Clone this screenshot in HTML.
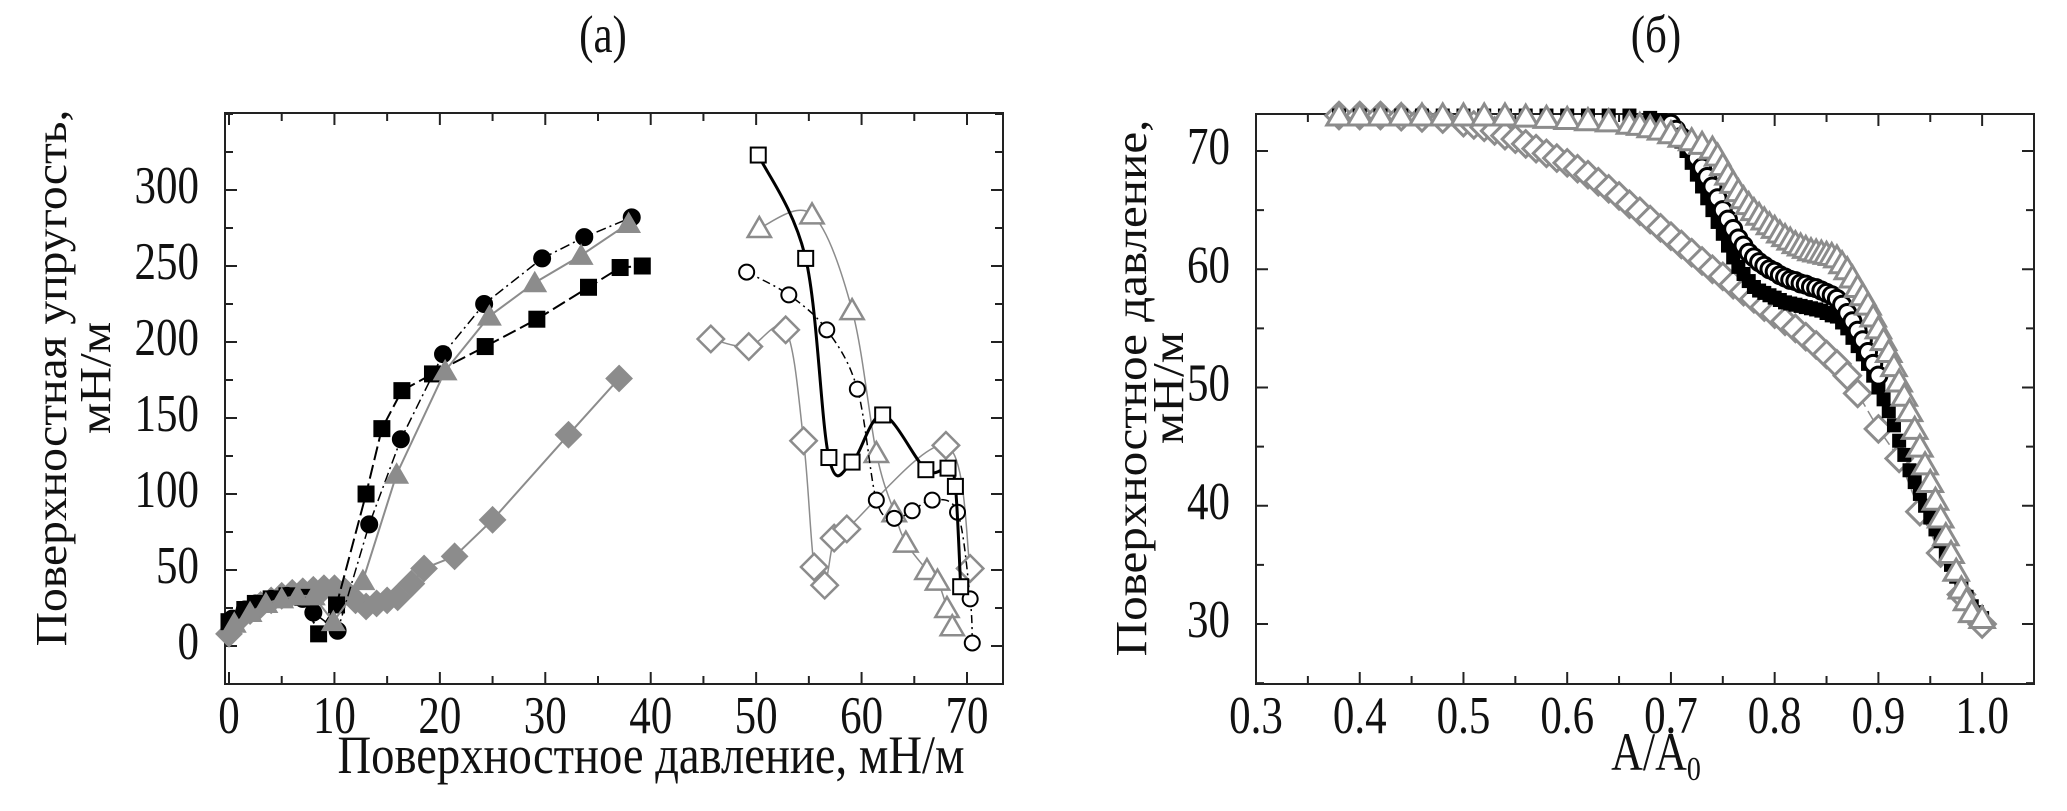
<!DOCTYPE html>
<html><head><meta charset="utf-8"><style>
html,body{margin:0;padding:0;background:#fff}
svg{display:block}
</style></head><body>
<svg id="s" width="2067" height="811" viewBox="0 0 2067 811" xmlns="http://www.w3.org/2000/svg" font-family="Liberation Serif, serif">
<g id="A"></g>
<g id="B"></g>
</svg>
<script>
// Chart (a) data
const aSqX=[0,1.5,2.5,4,5.5,7,8.5,10.2,13,14.5,16.4,19.3,24.3,29.2,34.1,37.1,39.2];
const aSqY=[16,24,28,31,33,32,8,27,100,143,168,179,197,215,236,249,250];
const aCiX=[0.3,1.5,2.5,4,5.5,7,8,10.3,13.3,16.3,20.3,24.2,29.7,33.7,38.2];
const aCiY=[18,24,28,31,33,31,22,10,80,136,192,225,255,269,282];
const aTrX=[0.5,2,3.5,5,6.5,8,9.9,12.7,15.9,20.5,24.7,29,33.4,37.9];
const aTrY=[15,22,28,31,33,33,16,43,113,181,217,239,257,278];
const aDiX=[0,1,2,3,4,5,6,7,8,9,10,11,12,13,14,15,16,17.3,18.5,21.4,25,32.2,37];
const aDiY=[8,18,23,27,30,33,35,36,37,38,38,36,30,26,28,30,32,41,51,59,83,139,176];
const aOSqX=[50.2,54.7,56.9,59.1,62.0,66.1,68.2,68.9,69.4];
const aOSqY=[323,255,124,121,152,116,117,105,39];
const aOCiX=[49.1,53.1,56.7,59.6,61.4,63.1,64.8,66.7,69.1,70.3,70.5];
const aOCiY=[246,231,208,169,96,84,89,96,88,31,2];
const aOTrX=[50.3,55.3,59.1,61.4,63.1,64.2,66.2,67.2,68.1,68.6];
const aOTrY=[275,284,221,127,88,68,50,43,25,13];
const aODiX=[45.7,49.3,52.8,54.5,55.5,56.5,57.4,58.6,68.0,70.3];
const aODiY=[202,197,208,135,52,40,71,77,132,51];
const aXTicks=[0,10,20,30,40,50,60,70];
const aYTicks=[0,50,100,150,200,250,300];
// Chart (b) data
const bSqX=[0.38,0.4,0.42,0.44,0.46,0.48,0.5,0.52,0.54,0.56,0.58,0.6,0.62,0.64,0.66,0.68,0.69,0.7,0.705,0.71,0.715,0.72,0.725,0.73,0.735,0.74,0.745,0.75,0.755,0.76,0.765,0.77,0.775,0.78,0.785,0.79,0.795,0.8,0.805,0.81,0.815,0.82,0.825,0.83,0.835,0.84,0.845,0.85,0.855,0.86,0.865,0.87,0.875,0.88,0.885,0.89,0.895,0.9,0.905,0.91,0.915,0.92,0.925,0.93,0.935,0.94,0.945,0.95,0.955,0.96,0.965,0.97,0.975,0.98,0.985,0.99,0.995,1.0];
const bSqY=[73,73,73,73,73,73,73,73,73,73,73,73,73,73,73,72.8,72.6,72.3,71.5,70.8,70,69,68,67,66,65,64,63,62,61,60.2,59.6,59,58.5,58.2,58,57.8,57.6,57.4,57.2,57.1,57,56.9,56.8,56.7,56.6,56.5,56.3,56.1,56,55.5,55,54.2,53.5,52.8,52,51,50,49,48,46.8,45.5,44.3,43,42,41,40,39,38,37,36,35,34,33,32.3,31.5,31,30.5];
const bCiX=[0.7,0.705,0.71,0.715,0.72,0.725,0.73,0.735,0.74,0.745,0.75,0.755,0.76,0.765,0.77,0.775,0.78,0.785,0.79,0.795,0.8,0.805,0.81,0.815,0.82,0.825,0.83,0.835,0.84,0.845,0.85,0.855,0.86,0.865,0.87,0.875,0.88,0.885,0.89,0.895,0.9];
const bCiY=[72.3,71.8,71.2,70.7,70.2,69.4,68.6,67.8,67,66,65,64.2,63.4,62.6,62,61.4,61,60.6,60.3,60,59.8,59.5,59.3,59.1,59,58.8,58.7,58.5,58.4,58.2,58,57.8,57.5,57,56.3,55.6,54.8,54,53,52,51];
const bTrX=[0.38,0.4,0.42,0.44,0.46,0.48,0.5,0.52,0.54,0.56,0.58,0.6,0.62,0.64,0.66,0.67,0.68,0.69,0.7,0.71,0.72,0.73,0.74,0.745,0.75,0.755,0.76,0.765,0.77,0.775,0.78,0.785,0.79,0.795,0.8,0.805,0.81,0.815,0.82,0.825,0.83,0.835,0.84,0.845,0.85,0.855,0.86,0.865,0.87,0.875,0.88,0.885,0.89,0.895,0.9,0.905,0.91,0.915,0.92,0.925,0.93,0.935,0.94,0.945,0.95,0.955,0.96,0.965,0.97,0.975,0.98,0.985,0.99,1.0];
const bTrY=[73,73,73,73,73,73,73,73,73,72.9,72.8,72.7,72.6,72.5,72.3,72.2,72,71.8,71.5,71.2,70.9,70.6,70.2,69.6,68.8,68,67.3,66.6,66,65.5,65,64.6,64.2,63.8,63.5,63.1,62.8,62.5,62.2,62,61.8,61.6,61.5,61.4,61.3,61.2,61,60.5,60,59.3,58.5,57.8,57,56,55,54,53,51.8,50.5,49.3,48,46.5,45,43.5,42,40.5,39,37.5,36,34.5,33,32,31,30.5];
const bDiX=[0.38,0.4,0.42,0.44,0.46,0.48,0.5,0.51,0.52,0.53,0.54,0.55,0.56,0.57,0.58,0.59,0.6,0.61,0.62,0.63,0.64,0.65,0.66,0.67,0.68,0.69,0.7,0.71,0.72,0.73,0.74,0.75,0.76,0.77,0.78,0.79,0.8,0.81,0.82,0.83,0.84,0.85,0.86,0.87,0.88,0.9,0.92,0.94,0.96,0.98,1.0];
const bDiY=[73,73,73,72.9,72.8,72.7,72.4,72.2,72,71.7,71.3,71,70.6,70.2,69.8,69.4,69,68.5,68,67.4,66.8,66.2,65.5,64.9,64.2,63.5,62.8,62.1,61.4,60.7,60,59.4,58.7,58.1,57.5,56.8,56.2,55.6,55,54.3,53.6,52.8,52,51,49.5,46.5,44,39.5,36,32.5,30];
const bXTicks=[0.3,0.4,0.5,0.6,0.7,0.8,0.9,1.0];
const bYTicks=[30,40,50,60,70];

const NS="http://www.w3.org/2000/svg";
const SY=1.22;
function mk(p,t,a){const e=document.createElementNS(NS,t);for(const k in a)e.setAttribute(k,a[k]);p.appendChild(e);return e;}
const ax=v=>229+v*(967-229)/70, ay=v=>646-v*(646-190)/300;
const bx=v=>1256+(v-0.3)*(2034-1256)/0.75, by=v=>624-(v-30)*(624-151)/40;

function txt(g,name,x,y,s,str,anchor,rot,len){
  const t=mk(g,'text',{x:0,y:0,'text-anchor':anchor||'middle','font-size':s,'font-family':'Liberation Serif, serif',fill:'#111',
    transform:`translate(${x} ${y}) scale(1 ${SY})`+(rot?' rotate(-90)':'')});
  if(len){t.setAttribute('textLength',len);t.setAttribute('lengthAdjust','spacingAndGlyphs');}
  t.textContent=str;
  
  
  return t;}
function frame(g,x0,x1,y0,y1,xt,yt,xs,ys,xminor,yminor,fmtx){
  const f=mk(g,'rect',{x:x0,y:y0,width:x1-x0,height:y1-y0,fill:'none',stroke:'#222','stroke-width':2});
  
  
  xminor.forEach(v=>{const big=xt.includes(v);
    mk(g,'line',{x1:xs(v),x2:xs(v),y1:y1,y2:y1-(big?12:8),stroke:'#222','stroke-width':2});
    mk(g,'line',{x1:xs(v),x2:xs(v),y1:y0,y2:y0+(big?12:8),stroke:'#222','stroke-width':2});});
  yminor.forEach(v=>{const big=yt.includes(v);
    mk(g,'line',{y1:ys(v),y2:ys(v),x1:x0,x2:x0+(big?12:8),stroke:'#222','stroke-width':2});
    mk(g,'line',{y1:ys(v),y2:ys(v),x1:x1,x2:x1-(big?12:8),stroke:'#222','stroke-width':2});});
  xt.forEach(v=>txt(g,'x-tick-label',xs(v),y1+49,43,fmtx(v)));
  yt.forEach(v=>txt(g,'y-tick-label',x0-26,ys(v)+13,43,String(v),'end'));
}
function marker(g,type,x,y,s,fill,stroke,sw){
  let e;
  if(type==='sq')e=mk(g,'rect',{x:x-s/2,y:y-s/2,width:s,height:s});
  else if(type==='ci')e=mk(g,'circle',{cx:x,cy:y,r:s/2});
  else if(type==='tr')e=mk(g,'polygon',{points:`${x},${y-s*0.55} ${x-s*0.58},${y+s*0.45} ${x+s*0.58},${y+s*0.45}`});
  else e=mk(g,'polygon',{points:`${x},${y-s*0.6} ${x+s*0.6},${y} ${x},${y+s*0.6} ${x-s*0.6},${y}`});
  e.setAttribute('fill',fill);e.setAttribute('stroke',stroke);e.setAttribute('stroke-width',sw);
  
  
}
function linePath(px,py){return px.map((x,i)=>(i?'L':'M')+x+','+py[i]).join(' ');}
function smoothPath(px,py){let d='M'+px[0]+','+py[0];
  for(let i=0;i<px.length-1;i++){const p0=i?i-1:i,p3=i+2<px.length?i+2:i+1;
    const c1x=px[i]+(px[i+1]-px[p0])/6,c1y=py[i]+(py[i+1]-py[p0])/6,c2x=px[i+1]-(px[p3]-px[i])/6,c2y=py[i+1]-(py[p3]-py[i])/6;
    d+=` C${c1x},${c1y} ${c2x},${c2y} ${px[i+1]},${py[i+1]}`;}return d;}
function series(g,name,X,Y,xs,ys,type,size,fill,stroke,sw,lc,lw,dash,smooth){
  const sg=mk(g,'g',{});
  
  
  const px=X.map(xs),py=Y.map(ys);
  if(lc){const p=mk(sg,'path',{d:smooth?smoothPath(px,py):linePath(px,py),fill:'none',stroke:lc,'stroke-width':lw});if(dash)p.setAttribute('stroke-dasharray',dash);
    
    }
  px.forEach((x,i)=>marker(sg,type,x,py[i],size,fill,stroke,sw));
}
const A=document.getElementById('A'),B=document.getElementById('B');
const rng=(a,b,s)=>{const r=[];for(let v=a;v<=b+1e-9;v+=s)r.push(+v.toFixed(3));return r;};
frame(A,225,1003,113,684,aXTicks,aYTicks,ax,ay,rng(0,70,5),rng(-25,350,25),v=>String(v));
frame(B,1256,2034,114,684,bXTicks,bYTicks,bx,by,rng(0.3,1.0,0.05),rng(25,70,5),v=>v.toFixed(1));
const G='#8c8c8c';
series(A,'series-filled-diamond',aDiX,aDiY,ax,ay,'di',22,G,G,1,G,2,null,false);
series(A,'series-filled-square',aSqX,aSqY,ax,ay,'sq',16,'#000','#000',1,'#000',2,'14,5',false);
series(A,'series-filled-circle',aCiX,aCiY,ax,ay,'ci',17,'#000','#000',1,'#000',1.5,'10,4,2,4',false);
series(A,'series-filled-triangle',aTrX,aTrY,ax,ay,'tr',20,G,G,1,G,2,null,false);
series(A,'series-open-diamond',aODiX,aODiY,ax,ay,'di',22,'#fff',G,2.5,G,1.5,null,true);
series(A,'series-open-triangle',aOTrX,aOTrY,ax,ay,'tr',20,'#fff',G,2.5,G,1.5,null,true);
series(A,'series-open-circle',aOCiX,aOCiY,ax,ay,'ci',15,'#fff','#000',2,'#000',1.5,'8,4,2,4',true);
series(A,'series-open-square',aOSqX,aOSqY,ax,ay,'sq',15,'#fff','#000',2,'#000',3,null,true);
series(B,'series-open-diamond',bDiX,bDiY,bx,by,'di',22,'#fff',G,3,G,1.5,'10,5',false);
series(B,'series-filled-square',bSqX,bSqY,bx,by,'sq',13,'#000','#000',1,null,0,null,false);
series(B,'series-open-circle',bCiX,bCiY,bx,by,'ci',17,'#fff','#000',3,null,0,null,false);
series(B,'series-open-triangle',bTrX,bTrY,bx,by,'tr',21,'#fff',G,3,null,0,null,false);

txt(A,'chart-title',603,52,43,'(а)');
txt(A,'x-axis-title',651,773,44,'Поверхностное давление, мН/м','middle',false,627);
txt(A,'y-axis-title-line1',66,378,44,'Поверхностная упругость,','middle',true,440);
txt(A,'y-axis-title-line2',110,378,44,'мН/м','middle',true,92);
txt(B,'chart-title',1656,52,43,'(б)');
const xt=txt(B,'x-axis-title',1656,770,44,'A/A');
const sub=mk(xt,'tspan',{'font-size':28,dy:8});sub.textContent='0';
txt(B,'y-axis-title-line1',1146,388,44,'Поверхностное давление,','middle',true,440);
txt(B,'y-axis-title-line2',1183,388,44,'мН/м','middle',true,92);
</script>
</body></html>
